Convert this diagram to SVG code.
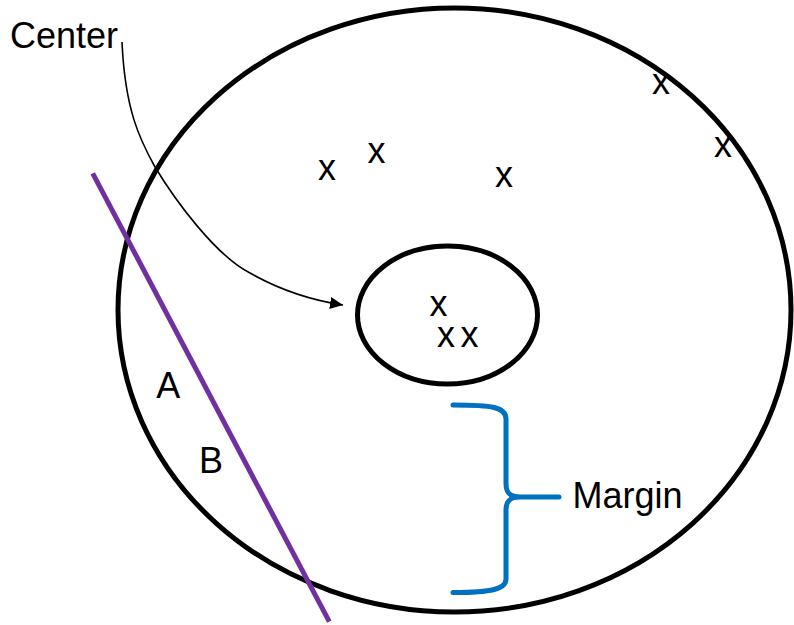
<svg xmlns="http://www.w3.org/2000/svg" width="794" height="625" viewBox="0 0 794 625">
<style>
text{font-family:"Liberation Sans",Arial,sans-serif;font-size:36px;fill:#000}
.pt{text-anchor:middle}
.ring{fill:none;stroke:#000;stroke-width:5}
</style>
<defs>
<marker id="ah" markerUnits="userSpaceOnUse" markerWidth="14" markerHeight="12" refX="13" refY="6" orient="auto">
<path d="M0,0 L13,6 L0,12 Z" fill="#000"/>
</marker>
</defs>
<rect width="794" height="625" fill="#fff"/>
<g id="outer"><ellipse class="ring" cx="454.5" cy="310" rx="336.5" ry="302"/></g>
<g id="inner"><ellipse class="ring" cx="447.5" cy="315" rx="90" ry="69"/></g>
<g id="points">
<text class="pt" x="327" y="180">x</text>
<text class="pt" x="376.5" y="163">x</text>
<text class="pt" x="504" y="187">x</text>
<text class="pt" x="661" y="94">x</text>
<text class="pt" x="723" y="157">x</text>
<text class="pt" x="438.5" y="316">x</text>
<text class="pt" x="446" y="347">x</text>
<text class="pt" x="469.5" y="347">x</text>
</g>
<g id="center-label"><text x="10" y="48">Center</text></g>
<g id="hyperplane"><line x1="92.7" y1="173.3" x2="329.3" y2="621.7" stroke="#7030A0" stroke-width="5"/></g>
<g id="labels-ab">
<text class="pt" x="168.3" y="398">A</text>
<text class="pt" x="211" y="473">B</text>
</g>
<g id="margin">
<path d="M453,405 C492,405 506,407 506,419 L506,484 C506,493 510,497 520,497 L559,497 M520,497 C510,497 506,501 506,510 L506,579 C506,589 492,592.5 453,592.5" fill="none" stroke="#0070C0" stroke-width="5" stroke-linecap="round" stroke-linejoin="round"/>
<text x="572.5" y="508">Margin</text>
</g>
<g id="connectors">
<path d="M122,42 C125,110 140,140 155,167 C175,200 215,255 250,273 C280,290 310,300 343,305" fill="none" stroke="#000" stroke-width="1.6" marker-end="url(#ah)"/>
</g>
</svg>
